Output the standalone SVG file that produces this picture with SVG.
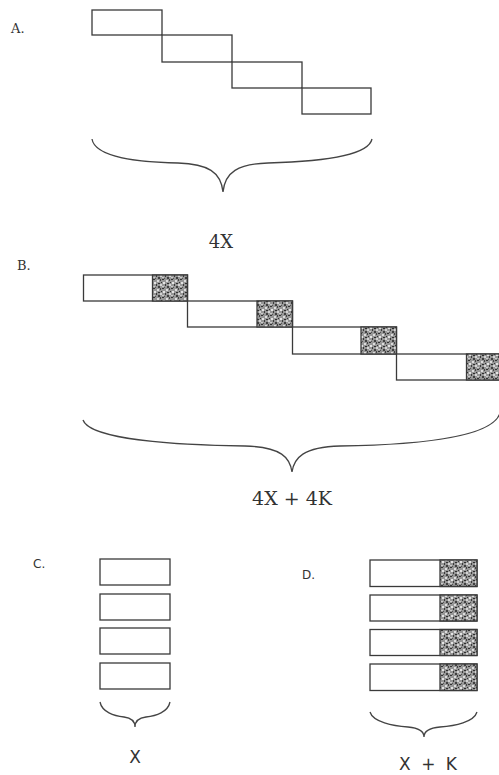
<svg xmlns="http://www.w3.org/2000/svg" width="499" height="775" viewBox="0 0 499 775">
<defs>
<pattern id="stip" width="9" height="9" patternUnits="userSpaceOnUse">
<rect width="9" height="9" fill="#979797"/>
<rect x="0" y="0" width="2" height="1" fill="#333"/>
<rect x="4" y="1" width="2" height="2" fill="#dcdcdc"/>
<rect x="7" y="0" width="1" height="2" fill="#444"/>
<rect x="1" y="3" width="2" height="2" fill="#e4e4e4"/>
<rect x="5" y="4" width="2" height="1" fill="#2e2e2e"/>
<rect x="3" y="5" width="1" height="2" fill="#3a3a3a"/>
<rect x="7" y="5" width="2" height="2" fill="#d4d4d4"/>
<rect x="0" y="7" width="2" height="1" fill="#cccccc"/>
<rect x="5" y="7" width="2" height="2" fill="#404040"/>
<rect x="2" y="8" width="1" height="1" fill="#555"/>
<rect x="8" y="3" width="1" height="1" fill="#333"/>
</pattern>
</defs>
<style>
.box{fill:#fff;stroke:#3a3a3a;stroke-width:1.3}
.sh{fill:url(#stip);stroke:#3a3a3a;stroke-width:1.3}
.brace{fill:none;stroke:#444;stroke-width:1.3}
.ser{font-family:"DejaVu Serif","Liberation Serif",serif;fill:#333}
.sans{font-family:"DejaVu Sans","Liberation Sans",sans-serif;fill:#333}
</style>
<rect width="499" height="775" fill="#fff"/>

<g id="sectionA">
<text class="ser" x="11" y="33" font-size="13">A.</text>
<g id="A-box1"><rect class="box" x="92" y="10" width="70" height="25"/></g>
<g id="A-box2"><rect class="box" x="162" y="35" width="70" height="27"/></g>
<g id="A-box3"><rect class="box" x="232" y="62" width="70" height="26"/></g>
<g id="A-box4"><rect class="box" x="302" y="88" width="69" height="26"/></g>
<path class="brace" d="M92,139 C95,158 140,162 178,163 C208,164 221,172 223,192 C225,172 238,164 268,163 C306,162 368,158 372,139"/>
<text class="ser" x="221" y="248" font-size="18" text-anchor="middle">4X</text>
</g>

<g id="sectionB">
<text class="ser" x="17" y="270" font-size="13">B.</text>
<g id="B-box1"><rect class="box" x="83.5" y="275" width="104" height="26"/><rect class="sh" x="152.5" y="275" width="35" height="26"/></g>
<g id="B-box2"><rect class="box" x="187.5" y="301" width="105" height="26"/><rect class="sh" x="257" y="301" width="35.5" height="26"/></g>
<g id="B-box3"><rect class="box" x="292.5" y="327" width="104" height="27"/><rect class="sh" x="361" y="327" width="35.5" height="27"/></g>
<g id="B-box4"><rect class="box" x="396.5" y="354" width="106" height="26"/><rect class="sh" x="466.5" y="354" width="36" height="26"/></g>
<path class="brace" d="M83,420 C90,440 180,445 245,446 C282,447 290,458 292,472 C294,458 303,447 340,446 C405,445 492,440 500,413"/>
<text class="ser" x="292" y="505" font-size="19" text-anchor="middle">4X + 4K</text>
</g>

<g id="sectionC">
<text class="sans" x="33" y="568" font-size="12">C.</text>
<g id="C-box1"><rect class="box" x="100" y="559" width="70" height="26"/></g>
<g id="C-box2"><rect class="box" x="100" y="594" width="70" height="26"/></g>
<g id="C-box3"><rect class="box" x="100" y="628" width="70" height="26"/></g>
<g id="C-box4"><rect class="box" x="100" y="663" width="70" height="26"/></g>
<path class="brace" d="M100,702 C102,712 114,716 124,717 C132,718 135,721 135,727 C135,721 138,718 146,717 C156,716 168,712 170,702"/>
<text class="sans" x="135" y="763" font-size="17" text-anchor="middle">X</text>
</g>

<g id="sectionD">
<text class="sans" x="302" y="579" font-size="12">D.</text>
<g id="D-box1"><rect class="box" x="370" y="560" width="107" height="26.5"/><rect class="sh" x="440" y="560" width="37" height="26.5"/></g>
<g id="D-box2"><rect class="box" x="370" y="595" width="107" height="26"/><rect class="sh" x="440" y="595" width="37" height="26"/></g>
<g id="D-box3"><rect class="box" x="370" y="629.5" width="107" height="26"/><rect class="sh" x="440" y="629.5" width="37" height="26"/></g>
<g id="D-box4"><rect class="box" x="370" y="664" width="107" height="26.5"/><rect class="sh" x="440" y="664" width="37" height="26.5"/></g>
<path class="brace" d="M370,712 C373,722 393,726 408,727 C419,728 424,731 424,737 C424,731 429,728 440,727 C455,726 474,722 477,712"/>
<text class="sans" x="428" y="770" font-size="17" text-anchor="middle" textLength="58" lengthAdjust="spacing">X + K</text>
</g>
</svg>
